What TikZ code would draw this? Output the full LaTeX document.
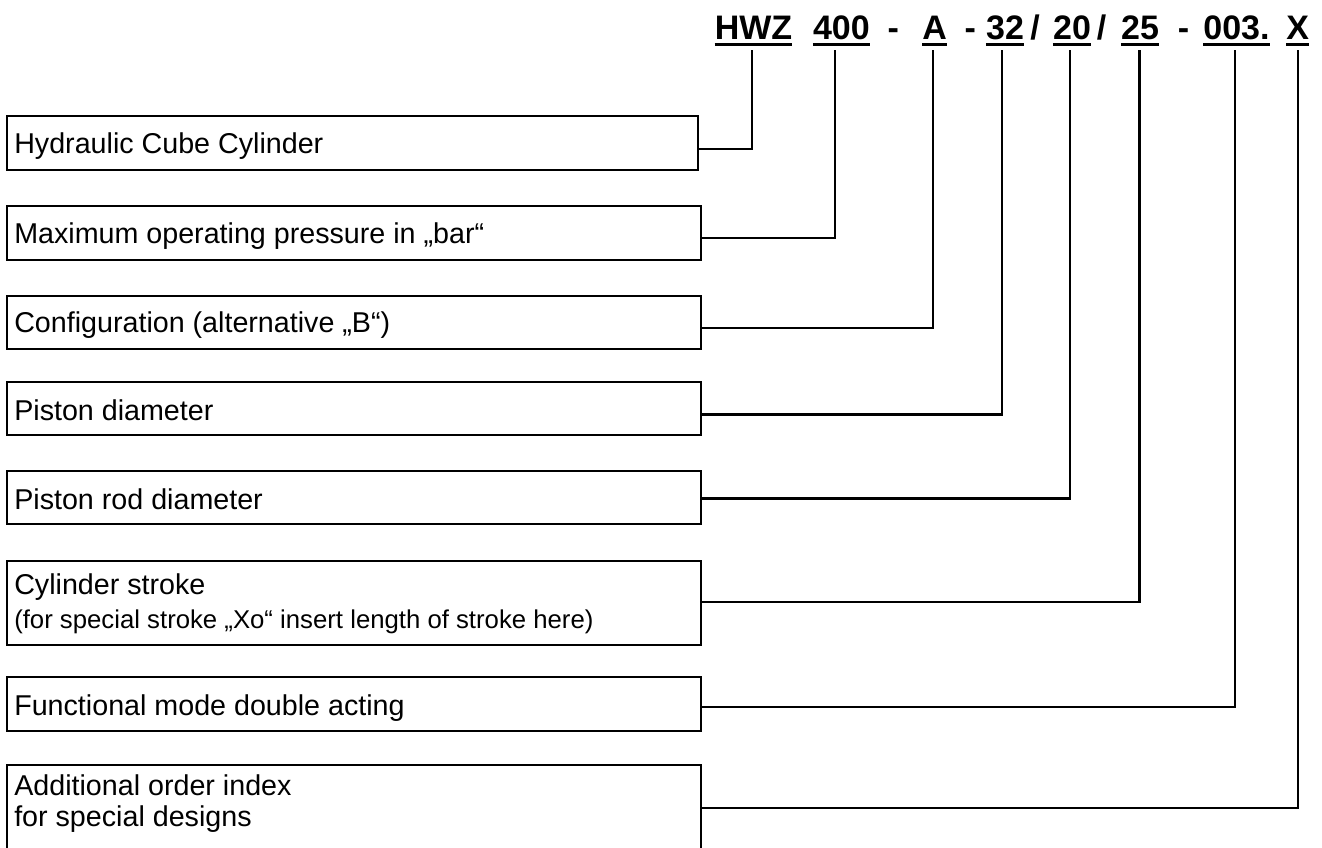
\documentclass[tikz,border=0pt]{standalone}
\usepackage{fontspec}
\setmainfont{Liberation Sans}
\usetikzlibrary{fit}
\begin{document}
\begin{tikzpicture}[x=0.75pt,y=-0.75pt,
  box/.style={draw, inner sep=0pt, line width=1.7pt},
  lbl/.style={anchor=base west, inner sep=0pt, font=\fontsize{21.5}{25}\selectfont},
  sml/.style={anchor=base west, inner sep=0pt, font=\fontsize{19.3}{22}\selectfont},
  code/.style={anchor=base, inner sep=0pt, font=\bfseries\fontsize{25.5}{28}\selectfont},
  uline/.style={line width=1.7pt},
  conn/.style={line width=1.6pt}]
\useasboundingbox (0,0) rectangle (1322,847);
\clip (0,0) rectangle (1322,847);

% header code
\node[code] (c1) at (753.5,39) {HWZ};
\node[code] (c2) at (841.4,39) {400};
\node[code] (d1) at (893.3,39) {-};
\node[code] (c3) at (934.7,39) {A};
\node[code] (d2) at (970.3,39) {-};
\node[code] (c4) at (1005,39) {32};
\node[code] (s1) at (1035,39) {/};
\node[code] (c5) at (1072,39) {20};
\node[code] (s2) at (1101.7,39) {/};
\node[code] (c6) at (1140,39) {25};
\node[code] (d3) at (1183.5,39) {-};
\node[code] (c7) at (1236.5,39) {003.};
\node[code] (c8) at (1297.7,39) {X};
\foreach \n in {c1,c2,c3,c4,c5,c6,c7,c8}
  \draw[uline] ([yshift=-4.1pt]\n.base west) -- ([yshift=-4.1pt]\n.base east);

% upper ends of connectors
\coordinate (v1) at (751.7,50);
\coordinate (v2) at (835,50);
\coordinate (v3) at (933,50);
\coordinate (v4) at (1001.7,50);
\coordinate (v5) at (1070,50);
\coordinate (v6) at (1139.5,50);
\coordinate (v7) at (1235,50);
\coordinate (v8) at (1298,50);

% levels of connectors
\coordinate (h1) at (0,149);
\coordinate (h2) at (0,237.7);
\coordinate (h3) at (0,328);
\coordinate (h4) at (0,414.5);
\coordinate (h5) at (0,498.5);
\coordinate (h6) at (0,602.3);
\coordinate (h7) at (0,707);
\coordinate (h8) at (0,808);

% boxes
\node[box, fit={(7,116)(698,170)}] (b1) {};
\node[box, fit={(7,206)(701,260)}] (b2) {};
\node[box, fit={(7,296)(701,349)}] (b3) {};
\node[box, fit={(7,381.7)(701,435)}] (b4) {};
\node[box, fit={(7,470.7)(701,524.3)}] (b5) {};
\node[box, fit={(7,560.7)(701,645)}] (b6) {};
\node[box, fit={(7,676.7)(701,731)}] (b7) {};
\node[box, fit={(7,765)(701,880)}] (b8) {};

% texts
\node[lbl] (t1) at (14,153.5) {Hydraulic Cube Cylinder};
\node[lbl] (t2) at (14,243) {Maximum operating pressure in „bar“};
\node[lbl] (t3) at (14,332.5) {Configuration (alternative „B“)};
\node[lbl] (t4) at (14,420) {Piston diameter};
\node[lbl] (t5) at (14,509.5) {Piston rod diameter};
\node[lbl] (t6a) at (14,594) {Cylinder stroke};
\node[sml] (t6b) at (14,628) {(for special stroke „Xo“ insert length of stroke here)};
\node[lbl] (t7) at (14,715) {Functional mode double acting};
\node[lbl] (t8a) at (14,795) {Additional order index};
\node[lbl] (t8b) at (14,826) {for special designs};

% connectors
\draw[conn] (b1.east |- h1) -| (v1);
\draw[conn] (b2.east |- h2) -| (v2);
\draw[conn] (b3.east |- h3) -| (v3);
\draw[conn] (b4.east |- h4) -| (v4);
\draw[conn] (b5.east |- h5) -| (v5);
\draw[conn] (b6.east |- h6) -| (v6);
\draw[conn] (b7.east |- h7) -| (v7);
\draw[conn] (b8.east |- h8) -| (v8);
\end{tikzpicture}
\end{document}
